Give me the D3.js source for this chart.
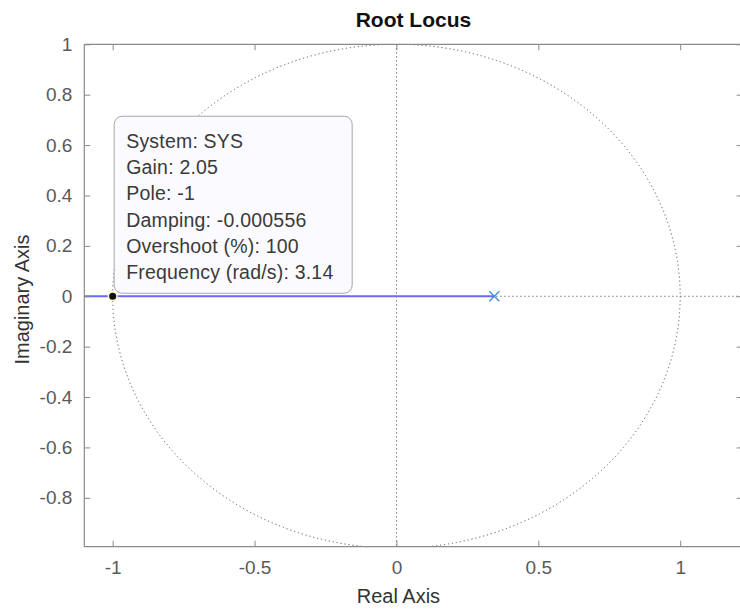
<!DOCTYPE html>
<html>
<head>
<meta charset="utf-8">
<script src="https://cdn.jsdelivr.net/npm/d3@7"></script>
<style>
  html, body { margin: 0; padding: 0; background: #fff; }
  svg { display: block; font-family: "Liberation Sans", Arial, Helvetica, sans-serif; }
</style>
</head>
<body>
<svg id="chart" width="740" height="610"></svg>
<script>
// ---- data ----
const xTicks = [-1, -0.5, 0, 0.5, 1];
const xTickLabels = ["-1", "-0.5", "0", "0.5", "1"];
const yTicks = [1, 0.8, 0.6, 0.4, 0.2, 0, -0.2, -0.4, -0.6, -0.8];
const yTickLabels = ["1", "0.8", "0.6", "0.4", "0.2", "0", "-0.2", "-0.4", "-0.6", "-0.8"];
const xDomain = [-1.1, 1.22];
const yDomain = [-0.994, 1];
const poles = [{ re: 0.345, im: 0 }];
const locusRe = [0.345, -1.1];
const locusIm = [0, 0];
const selected = { re: -1, im: 0 };
const tipLines = ["System: SYS", "Gain: 2.05", "Pole: -1", "Damping: -0.000556", "Overshoot (%): 100", "Frequency (rad/s): 3.14"];
const unitCircleRadius = [1];

// ---- layout ----
const L = 84.3, R = 742.6, T = 44.3, B = 546.7;
const svg = d3.select("#chart");
const x = d3.scaleLinear().domain(xDomain).range([L, R]);
const y = d3.scaleLinear().domain(yDomain).range([B, T]);

svg.append("defs").append("clipPath").attr("id", "clip")
  .append("rect").attr("x", L).attr("y", T).attr("width", R - L).attr("height", B - T);

const plot = svg.append("g").attr("clip-path", "url(#clip)");

// dotted grid: unit circle and axes lines
const dotStyle = s => s.attr("fill", "none").attr("stroke", "#5a5a5a").attr("stroke-width", 1).attr("stroke-dasharray", "1.2,2.8");
plot.selectAll("ellipse.uc").data(unitCircleRadius).enter().append("ellipse")
  .attr("cx", x(0)).attr("cy", y(0))
  .attr("rx", d => x(d) - x(0)).attr("ry", d => y(0) - y(d))
  .call(dotStyle);
plot.append("line").attr("x1", x(0)).attr("x2", x(0)).attr("y1", T).attr("y2", B).call(dotStyle);
plot.append("line").attr("x1", L).attr("x2", R).attr("y1", y(0)).attr("y2", y(0)).call(dotStyle);

// locus
const locus = locusRe.map((r, i) => [r, locusIm[i]]);
plot.append("path").datum(locus)
  .attr("d", d3.line().x(d => x(d[0])).y(d => y(d[1])))
  .attr("fill", "none").attr("stroke", "#6b6bf2").attr("stroke-width", 2.2);

// poles (x markers)
const cross = plot.selectAll("g.pole").data(poles).enter().append("g")
  .attr("transform", d => `translate(${x(d.re)},${y(d.im)})`);
cross.append("path").attr("d", "M-5,-5L5,5M-5,5L5,-5")
  .attr("stroke", "#3f8fe6").attr("stroke-width", 1.4).attr("fill", "none");

// selected point
svg.append("circle").attr("cx", x(selected.re)).attr("cy", y(selected.im)).attr("r", 4.3)
  .attr("fill", "#111").attr("stroke", "#fbf7c8").attr("stroke-width", 1.5);

// axes box
const axCol = "#8a8a8a";
[[L, R, T, T], [L, R, B, B], [L, L, T, B], [R, R, T, B]].forEach(c =>
  svg.append("line").attr("x1", c[0]).attr("x2", c[1]).attr("y1", c[2]).attr("y2", c[3])
    .attr("stroke", axCol).attr("stroke-width", 1.2));

const tl = 6;
// x ticks top & bottom
svg.append("g").attr("transform", `translate(0,${B})`)
  .call(d3.axisBottom(x).tickValues(xTicks).tickSize(-tl).tickPadding(14).tickFormat((d, i) => xTickLabels[i]))
  .call(g => g.select(".domain").remove())
  .call(g => g.selectAll("line").attr("stroke", axCol))
  .call(g => g.selectAll("text").attr("font-size", 19).attr("fill", "#5a5a5a").attr("font-family", "Liberation Sans, Arial, sans-serif"));
svg.append("g").attr("transform", `translate(0,${T})`)
  .call(d3.axisTop(x).tickValues(xTicks).tickSize(-tl).tickFormat(""))
  .call(g => g.select(".domain").remove())
  .call(g => g.selectAll("line").attr("stroke", axCol));
// y ticks left & right
svg.append("g").attr("transform", `translate(${L},0)`)
  .call(d3.axisLeft(y).tickValues(yTicks).tickSize(-tl).tickPadding(12).tickFormat((d, i) => yTickLabels[i]))
  .call(g => g.select(".domain").remove())
  .call(g => g.selectAll("line").attr("stroke", axCol))
  .call(g => g.selectAll("text").attr("font-size", 19).attr("fill", "#5a5a5a").attr("font-family", "Liberation Sans, Arial, sans-serif"));
svg.append("g").attr("transform", `translate(${R},0)`)
  .call(d3.axisRight(y).tickValues(yTicks).tickSize(-tl).tickFormat(""))
  .call(g => g.select(".domain").remove())
  .call(g => g.selectAll("line").attr("stroke", axCol));

// titles
svg.append("text").attr("x", (L + R) / 2).attr("y", 27).attr("text-anchor", "middle")
  .attr("font-weight", "bold").attr("font-size", 21).attr("fill", "#111").text("Root Locus");
svg.append("text").attr("x", (L + R) / 2 - 15).attr("y", 603).attr("text-anchor", "middle")
  .attr("font-size", 20).attr("fill", "#333").text("Real Axis");
svg.append("text").attr("transform", `translate(29,${(T + B) / 2 + 4}) rotate(-90)`).attr("text-anchor", "middle")
  .attr("font-size", 20).attr("fill", "#333").text("Imaginary Axis");

// data tip
const px = x(selected.re), py = y(selected.im);
const tipW = 238, tipH = 177;
const tip = svg.append("g").attr("transform", `translate(${px + 1.5},${py - 3 - tipH})`);
tip.append("rect").attr("width", tipW).attr("height", tipH).attr("rx", 8)
  .attr("fill", "#fafaff").attr("stroke", "#a8a8a8").attr("stroke-width", 1);
tip.selectAll("text").data(tipLines).enter().append("text")
  .attr("x", 12).attr("y", (d, i) => 32 + i * 26.1)
  .attr("font-size", 19.5).attr("fill", "#3a3a3a").attr("letter-spacing", 0.2)
  .text(d => d);
</script>
</body>
</html>
